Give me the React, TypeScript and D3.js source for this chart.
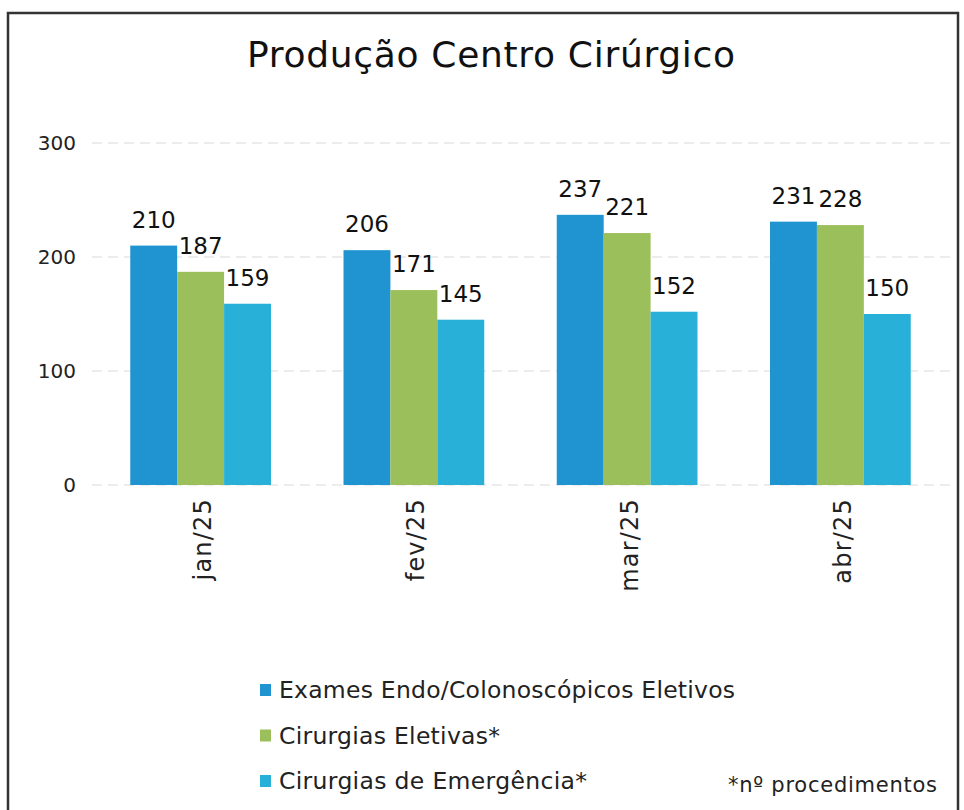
import React from "react";
import * as d3 from "d3";

const categories = ["jan/25", "fev/25", "mar/25", "abr/25"];
const seriesNames = [
  "Exames Endo/Colonoscópicos Eletivos",
  "Cirurgias Eletivas*",
  "Cirurgias de Emergência*",
];
const exames = [210, 206, 237, 231];
const eletivas = [187, 171, 221, 228];
const emergencia = [159, 145, 152, 150];
const yTicks = [0, 100, 200, 300];
const colors = ["#1f94d1", "#9bbf5a", "#28b0d8"];
const title = "Produção Centro Cirúrgico";
const footnote = "*nº procedimentos";

// text widths measured on the reference (styling)
const legendWidths = [456, 221, 308];

const FONT = "'DejaVu Sans', Verdana, sans-serif";

export default function App() {
  const series = [exames, eletivas, emergencia];
  const x0 = d3.scaleBand<string>().domain(categories).range([94, 947]).paddingInner(0.34).paddingOuter(0.17);
  const x1 = d3.scaleBand<number>().domain([0, 1, 2]).range([0, x0.bandwidth()]);
  const y = d3.scaleLinear().domain([0, 300]).range([485, 143]);

  return (
    <svg width={964} height={810} style={{ position: "absolute", left: 0, top: 0, background: "#fff" }}>
      <rect x={8} y={13} width={950} height={810} fill="#fff" stroke="#333" strokeWidth={2.5} />
      <text x={491} y={67} textAnchor="middle" fontFamily={FONT} fontSize={36} fill="#111" textLength={488} lengthAdjust="spacing">
        {title}
      </text>
      {yTicks.map((t) => (
        <g key={t}>
          <line x1={92} x2={950} y1={y(t)} y2={y(t)} stroke="#e6e6e6" strokeWidth={1.5} strokeDasharray="10,6" />
          <text x={76} y={y(t)} dy="0.36em" textAnchor="end" fontFamily={FONT} fontSize={20} fill="#222">
            {t}
          </text>
        </g>
      ))}
      {categories.map((c, i) => (
        <g key={c} transform={`translate(${x0(c)},0)`}>
          {series.map((s, k) => (
            <rect key={k} x={x1(k)} y={y(s[i])} width={x1.bandwidth()} height={y(0) - y(s[i])} fill={colors[k]} />
          ))}
          {series.map((s, k) => (
            <text key={"l" + k} x={(x1(k) as number) + x1.bandwidth() / 2} y={y(s[i]) - 18} textAnchor="middle" fontFamily={FONT} fontSize={23} fill="#111">
              {s[i]}
            </text>
          ))}
          <text
            transform={`translate(${x0.bandwidth() / 2 + 2},498) rotate(-90)`}
            textAnchor="end"
            dy="0.35em"
            fontFamily={FONT}
            fontSize={24}
            fill="#222"
            letterSpacing={1.2}
          >
            {c}
          </text>
        </g>
      ))}
      {seriesNames.map((n, k) => (
        <g key={n} transform={`translate(260,${690 + k * 45.5})`}>
          <rect x={0} y={-6} width={11} height={12} fill={colors[k]} />
          <text x={19} y={0} dy="0.36em" fontFamily={FONT} fontSize={23.5} fill="#222" textLength={legendWidths[k]} lengthAdjust="spacing">
            {n}
          </text>
        </g>
      ))}
      <text x={937} y={792} textAnchor="end" fontFamily={FONT} fontSize={21} fill="#222" textLength={209} lengthAdjust="spacing">
        {footnote}
      </text>
    </svg>
  );
}
